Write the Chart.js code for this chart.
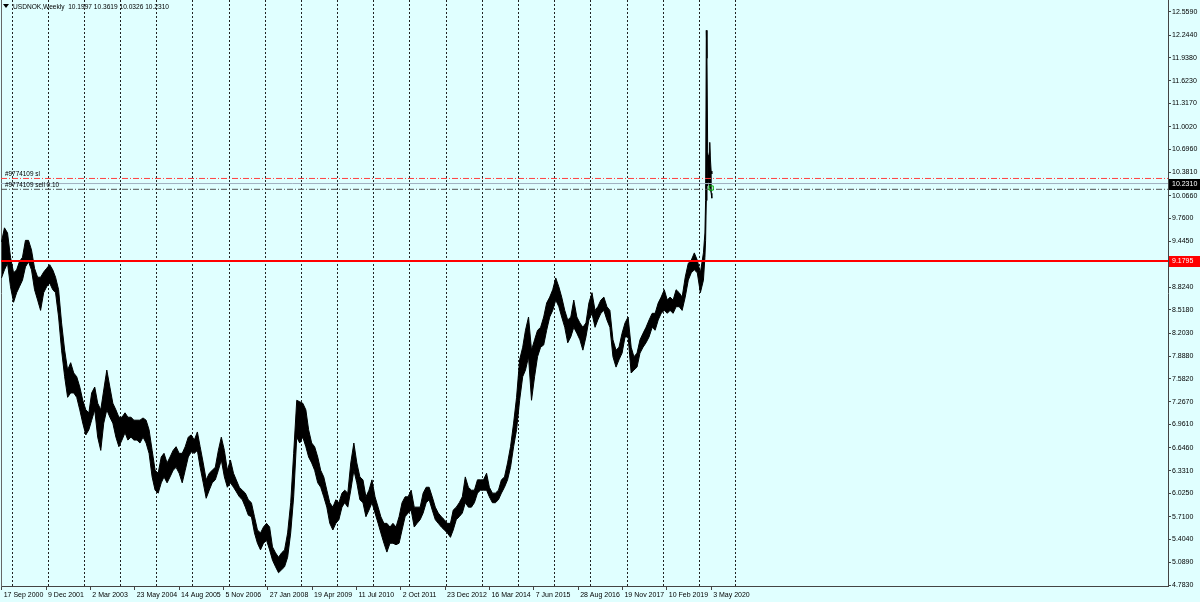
<!DOCTYPE html>
<html>
<head>
<meta charset="utf-8">
<script src="https://cdn.jsdelivr.net/npm/chart.js@4.4.1/dist/chart.umd.min.js"></script>
<style>
html,body{margin:0;padding:0;background:#E0FFFF;}
#wrap{position:relative;width:1200px;height:602px;}
</style>
</head>
<body>
<div id="wrap"><canvas id="c" width="1200" height="602"></canvas></div>
<script>
// ---------------- data ----------------
const symbolTitle = 'USDNOK,Weekly';
const lastBarOHLC = [10.1997, 10.3619, 10.0326, 10.2310];
const firstMonth = [2000, 9];   // monthly samples start Sep 2000

const monthlyHigh = [
 9.44,9.63,9.56,9.23,9.02,9.06,9.17,9.23,9.46,9.46,
 9.33,9.08,8.96,8.96,9.03,9.08,9.13,9.06,8.96,8.79,
 8.34,7.97,7.70,7.80,7.66,7.61,7.47,7.29,7.16,7.12,
 7.39,7.47,7.25,7.16,7.43,7.70,7.47,7.25,7.16,7.06,
 7.06,7.12,7.06,7.06,7.02,7.02,7.02,7.05,7.02,6.89,
 6.61,6.34,6.30,6.52,6.57,6.44,6.52,6.61,6.66,6.57,
 6.57,6.66,6.79,6.82,6.75,6.86,6.66,6.44,6.21,6.30,
 6.34,6.38,6.61,6.79,6.61,6.34,6.48,6.30,6.21,6.11,
 6.07,6.03,5.94,5.90,5.71,5.53,5.49,5.57,5.62,5.57,
 5.30,5.22,5.16,5.22,5.26,5.49,5.90,6.57,7.29,7.27,
 7.25,7.16,6.89,6.71,6.66,6.52,6.34,6.25,6.07,5.90,
 5.84,5.94,5.90,6.03,6.07,6.03,6.44,6.71,6.44,6.25,
 6.21,5.98,6.07,6.21,5.98,5.84,5.71,5.62,5.62,5.57,
 5.62,5.57,5.71,5.90,5.98,5.98,6.07,5.84,5.84,5.84,
 6.03,6.11,6.11,5.98,5.84,5.76,5.71,5.67,5.62,5.62,
 5.80,5.84,5.90,5.98,6.25,6.11,6.07,6.07,6.21,6.21,
 6.21,6.30,6.11,6.03,6.03,6.07,6.21,6.25,6.44,6.66,
 6.98,7.33,7.84,8.01,8.24,8.42,7.97,8.11,8.24,8.28,
 8.42,8.61,8.69,8.79,8.95,8.83,8.69,8.51,8.38,8.42,
 8.65,8.42,8.34,8.28,8.34,8.61,8.75,8.51,8.56,8.65,
 8.69,8.56,8.51,8.11,7.97,8.01,8.20,8.34,8.42,8.01,
 7.88,7.93,8.11,8.20,8.28,8.38,8.47,8.47,8.61,8.69,
 8.79,8.65,8.69,8.65,8.79,8.75,8.69,8.96,9.15,9.19,
 9.29,9.19,9.02,9.29
];
const monthlyLow = [
 8.95,9.06,9.15,8.83,8.62,8.75,8.83,8.92,9.10,9.17,
 9.06,8.79,8.65,8.51,8.75,8.83,8.88,8.79,8.75,8.42,
 7.97,7.61,7.33,7.39,7.39,7.33,7.16,6.98,6.82,6.89,
 7.02,7.16,6.79,6.61,6.98,7.16,7.06,6.98,6.79,6.66,
 6.75,6.85,6.75,6.79,6.75,6.75,6.71,6.79,6.71,6.57,
 6.25,6.07,6.03,6.17,6.25,6.17,6.25,6.34,6.38,6.30,
 6.17,6.34,6.52,6.59,6.57,6.61,6.38,6.17,5.96,6.07,
 6.17,6.21,6.34,6.48,6.25,6.11,6.17,6.11,6.05,5.98,
 5.94,5.84,5.73,5.71,5.49,5.35,5.26,5.35,5.39,5.26,
 5.12,5.03,4.95,4.99,5.03,5.16,5.49,5.98,6.79,6.71,
 6.79,6.66,6.52,6.44,6.34,6.17,6.11,5.98,5.84,5.62,
 5.53,5.62,5.67,5.84,5.90,5.84,6.07,6.34,6.17,5.94,
 5.90,5.71,5.80,5.90,5.76,5.62,5.49,5.35,5.23,5.35,
 5.35,5.33,5.35,5.53,5.71,5.76,5.80,5.57,5.62,5.67,
 5.76,5.90,5.94,5.80,5.67,5.62,5.57,5.53,5.49,5.43,
 5.53,5.67,5.71,5.76,5.90,5.84,5.84,5.90,6.03,6.07,
 6.07,6.07,5.98,5.90,5.90,5.94,6.03,6.11,6.21,6.38,
 6.66,6.89,7.29,7.61,7.70,7.88,7.29,7.61,7.88,8.01,
 8.04,8.24,8.42,8.51,8.65,8.56,8.42,8.28,8.07,8.15,
 8.28,8.20,8.11,7.97,8.15,8.38,8.47,8.28,8.38,8.47,
 8.51,8.38,8.28,7.88,7.74,7.84,7.93,8.15,8.15,7.66,
 7.70,7.74,7.93,8.01,8.07,8.15,8.28,8.24,8.38,8.47,
 8.51,8.47,8.51,8.47,8.56,8.56,8.51,8.69,8.92,9.02,
 9.06,9.02,8.75,8.92
];

// weekly bars of spring 2020 (weeks counted from 17 Sep 2000)
const weeklyIndex = [1015,1016,1017,1018,1019,1020,1021,1022,1023,1024,1025];
const weeklyHigh  = [9.56,10.00,12.31,11.93,10.66,10.60,10.62,10.79,10.55,10.40,10.3619];
const weeklyLow   = [9.23, 9.46,10.00,10.51,10.20,10.25,10.30,10.18,10.15,10.10,10.0326];

const xTickLabels = ['17 Sep 2000','9 Dec 2001','2 Mar 2003','23 May 2004','14 Aug 2005','5 Nov 2006',
 '27 Jan 2008','19 Apr 2009','11 Jul 2010','2 Oct 2011','23 Dec 2012','16 Mar 2014','7 Jun 2015',
 '28 Aug 2016','19 Nov 2017','10 Feb 2019','3 May 2020'];
const xTickWeeks = [0,64,128,192,256,320,384,448,512,576,640,704,768,832,896,960,1024];
const gridYears = [2001,2002,2003,2004,2005,2006,2007,2008,2009,2010,2011,2012,2013,2014,2015,2016,2017,2018,2019,2020,2021];

const yTickValues = [4.7830,5.0890,5.4040,5.7100,6.0250,6.3310,6.6460,6.9610,7.2670,7.5820,7.8880,
 8.2030,8.5180,8.8240,9.1395,9.4450,9.7600,10.0660,10.3810,10.6960,11.0020,11.3170,11.6230,11.9380,12.2440,12.5590];

const levelSupport = 9.1795;
const levelStopLoss = 10.3000;
const levelBid = 10.2310;
const levelSell = 10.1530;
const tradeLabels = ['#9774109 sl', '#9774109 sell 0.10'];
const tradeMarker = [1024, 10.17];

// ---------------- layout helpers ----------------
const FONT = "'Liberation Sans',Arial,sans-serif";
const BG = '#E0FFFF';
const yAxisW = 32, xAxisH = 16;
const xMin = -1.0, xMax = 1683.4;
const yMin = 4.7698, yMax = 12.7218;

const DAY = 86400000;
const t0 = Date.UTC(2000, 8, 17);
const weekOf = t => (t - t0) / (7 * DAY);
const monthX = monthlyHigh.map((_, i) => weekOf(Date.UTC(firstMonth[0], firstMonth[1] - 1 + i, 15)));
const yearWeeks = gridYears.map(Y => Math.ceil(weekOf(Date.UTC(Y, 0, 1))));

const highPts = monthX.map((x, i) => ({x, y: monthlyHigh[i]}))
  .concat(weeklyIndex.map((w, i) => ({x: w, y: weeklyHigh[i]})));
const lowPts = monthX.map((x, i) => ({x, y: monthlyLow[i]}))
  .concat(weeklyIndex.map((w, i) => ({x: w, y: weeklyLow[i]})));

const hline = (v) => [{x: xMin, y: v}, {x: xMax, y: v}];

const bgPlugin = {
  id: 'bg',
  beforeDraw(chart) {
    const ctx = chart.ctx;
    ctx.save(); ctx.fillStyle = BG; ctx.fillRect(0, 0, chart.width, chart.height); ctx.restore();
  }
};

const overlay = {
  id: 'overlay',
  afterDraw(chart) {
    const {ctx, chartArea: ca, scales: {y}} = chart;
    ctx.save();
    ctx.textBaseline = 'middle';
    ctx.textAlign = 'left';
    // price boxes on the right axis
    ctx.font = '7px ' + FONT;
    const boxes = [{v: levelSupport, bg: '#FF0000', fg: '#FFFFFF'}, {v: levelBid, bg: '#000000', fg: '#FFFFFF'}];
    for (const b of boxes) {
      const py = Math.round(y.getPixelForValue(b.v));
      ctx.fillStyle = b.bg; ctx.fillRect(ca.right + 1, py - 5, 31, 11);
      ctx.fillStyle = b.fg; ctx.fillText(b.v.toFixed(4), ca.right + 4, py + 0.5);
    }
    // header
    ctx.fillStyle = '#000';
    ctx.beginPath(); ctx.moveTo(3, 4); ctx.lineTo(9, 4); ctx.lineTo(6, 8); ctx.closePath(); ctx.fill();
    ctx.font = '6.6px ' + FONT;
    ctx.fillText(symbolTitle + '  ' + lastBarOHLC.map(v => v.toFixed(4)).join(' '), 13, 7);
    // trade line labels
    ctx.font = '6.4px ' + FONT;
    ctx.fillText(tradeLabels[0], 5, y.getPixelForValue(levelStopLoss) - 4);
    ctx.fillText(tradeLabels[1], 5, y.getPixelForValue(levelSell) - 4);
    ctx.restore();
  }
};

new Chart(document.getElementById('c'), {
  type: 'line',
  data: {
    datasets: [
      {data: highPts, borderColor: '#000', borderWidth: 1, pointRadius: 0, tension: 0, fill: false, order: 3},
      {data: lowPts, borderColor: '#000', borderWidth: 1, pointRadius: 0, tension: 0, fill: '-1', backgroundColor: '#000', order: 3},
      {data: hline(levelSupport), borderColor: '#FF0000', borderWidth: 2, pointRadius: 0, order: 1},
      {data: hline(levelStopLoss), borderColor: '#FF4040', borderWidth: 1, borderDash: [6, 2, 1, 2], pointRadius: 0, order: 1},
      {data: hline(levelBid), borderColor: '#9FB0C0', borderWidth: 1, pointRadius: 0, order: 1},
      {data: hline(levelSell), borderColor: '#505050', borderWidth: 1, borderDash: [6, 2, 1, 2], pointRadius: 0, order: 1},
      {type: 'scatter', data: [{x: tradeMarker[0], y: tradeMarker[1]}], pointStyle: 'rect', pointRadius: 3, borderColor: '#00B000', borderWidth: 1, backgroundColor: 'rgba(0,0,0,0)', order: 0}
    ]
  },
  options: {
    responsive: false,
    devicePixelRatio: 1,
    animation: false,
    events: [],
    layout: {padding: 0, autoPadding: false},
    plugins: {legend: {display: false}, tooltip: {enabled: false}, title: {display: false}},
    scales: {
      x: {
        type: 'linear', position: 'bottom', min: xMin, max: xMax, offset: false,
        afterBuildTicks: s => { s.ticks = xTickWeeks.map(v => ({value: v})); },
        afterFit: s => { s.height = xAxisH; s.paddingLeft = 0; s.paddingRight = 0; },
        ticks: {autoSkip: false, maxRotation: 0, minRotation: 0, align: 'start', labelOffset: 2, padding: 1,
          color: '#000', font: {family: FONT, size: 7}, callback: (v, i) => xTickLabels[i]},
        grid: {drawOnChartArea: false, drawTicks: true, tickLength: 4, color: '#444', offset: false},
        border: {display: true, color: '#444', width: 1}
      },
      xg: {
        type: 'linear', position: 'bottom', min: xMin, max: xMax, offset: false,
        afterBuildTicks: s => { s.ticks = yearWeeks.map(v => ({value: v})); },
        afterFit: s => { s.height = 0; s.paddingLeft = 0; s.paddingRight = 0; },
        ticks: {display: false},
        grid: {drawOnChartArea: true, drawTicks: false, color: '#222', lineWidth: 1, offset: false},
        border: {display: false, dash: [2, 2]}
      },
      yl: {
        type: 'linear', position: 'left', min: yMin, max: yMax,
        afterFit: s => { s.width = 1; s.paddingTop = 0; s.paddingBottom = 0; },
        ticks: {display: false},
        grid: {drawOnChartArea: false, drawTicks: false},
        border: {display: true, color: '#666', width: 1}
      },
      y: {
        type: 'linear', position: 'right', min: yMin, max: yMax,
        afterBuildTicks: s => { s.ticks = yTickValues.map(v => ({value: v})); },
        afterFit: s => { s.width = yAxisW; s.paddingTop = 0; s.paddingBottom = 0; },
        ticks: {autoSkip: false, padding: 1, color: '#000', font: {family: FONT, size: 7}, callback: v => Number(v).toFixed(4)},
        grid: {drawOnChartArea: false, drawTicks: true, tickLength: 3, color: '#444'},
        border: {display: true, color: '#444', width: 1}
      }
    }
  },
  plugins: [bgPlugin, overlay]
});
</script>
</body>
</html>
